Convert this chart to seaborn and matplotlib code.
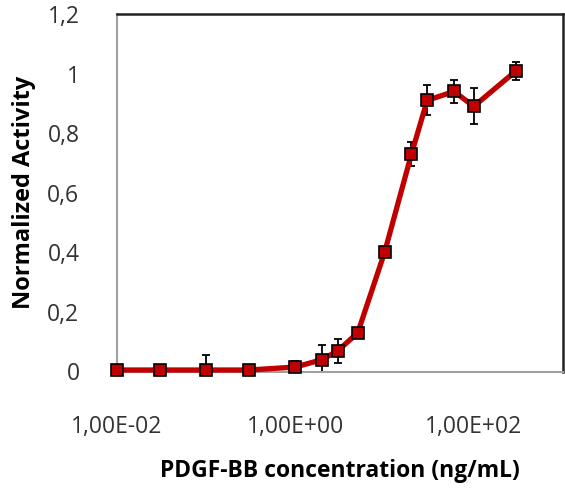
import numpy as np
import pandas as pd
import matplotlib
matplotlib.use('Agg')
import matplotlib.pyplot as plt
import seaborn as sns

# PDGF-BB dose response
concentration = [0.01, 0.03, 0.1, 0.3, 1, 2, 3, 5, 10, 20, 30, 60, 100, 300]
activity = [0.005, 0.005, 0.005, 0.005, 0.015, 0.04, 0.07, 0.13, 0.40, 0.73, 0.91, 0.94, 0.89, 1.01]
error = [0.005, 0.005, 0.05, 0.005, 0.02, 0.05, 0.04, 0.005, 0.015, 0.04, 0.05, 0.04, 0.06, 0.03]
x_ticks = [0.01, 1, 100]
x_tick_labels = ['1,00E-02', '1,00E+00', '1,00E+02']
y_ticks = [0, 0.2, 0.4, 0.6, 0.8, 1.0, 1.2]
y_tick_labels = ['0', '0,2', '0,4', '0,6', '0,8', '1', '1,2']

df = pd.DataFrame({'conc': concentration, 'activity': activity, 'err': error})

sns.set_style('white')
plt.rcParams['font.family'] = ['Open Sans', 'DejaVu Sans']

fig = plt.figure(figsize=(5.65, 4.88), dpi=100)
ax = fig.add_axes([117 / 565, 1 - 371.5 / 488, 446 / 565, 357.5 / 488])

# error bars are clipped at the x axis, like the original
ax.errorbar(df['conc'], df['activity'], yerr=df['err'], fmt='none',
            ecolor='black', elinewidth=1.3, capsize=3.2, capthick=1.3,
            zorder=2)
sns.lineplot(data=df, x='conc', y='activity', ax=ax, color='#C00000',
             linewidth=3.8, marker='s', markersize=9, markerfacecolor='#C00000',
             markeredgecolor='black', markeredgewidth=1.2, zorder=3,
             clip_on=False)

ax.set_xscale('log')
ax.set_xlim(0.01, 1000)
ax.set_ylim(0, 1.2)
ax.set_xticks(x_ticks)
ax.set_xticklabels(x_tick_labels)
ax.minorticks_off()
ax.set_yticks(y_ticks)
ax.set_yticklabels(y_tick_labels)
ax.tick_params(axis='both', length=0, labelsize=16.5, colors='#333333')
ax.tick_params(axis='y', pad=27)
ax.tick_params(axis='x', pad=31)

ax.set_xlabel('PDGF-BB concentration (ng/mL)', fontsize=16.5, fontweight='bold',
              labelpad=15, color='black')
ax.set_ylabel('Normalized Activity', fontsize=17, fontweight='bold',
              labelpad=8, color='black')

for side in ['left', 'bottom']:
    ax.spines[side].set_color('#A0A0A0')
    ax.spines[side].set_linewidth(1.5)
for side in ['top', 'right']:
    ax.spines[side].set_color('#222222')
    ax.spines[side].set_linewidth(1.8)

fig.savefig('out.png', dpi=100)
